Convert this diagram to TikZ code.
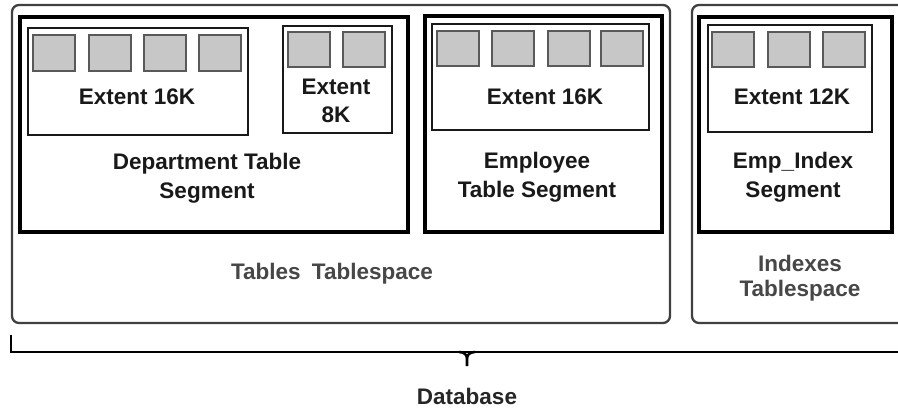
\documentclass[tikz,border=0pt]{standalone}
\usepackage{fontspec}
\setmainfont{Liberation Sans}
\usetikzlibrary{calc}
\begin{document}
\begin{tikzpicture}[x=1pt,y=-1pt,
  tspace/.style={draw=black!75,line width=2.3pt,rounded corners=7pt},
  segbox/.style={draw=black,line width=3.4pt},
  extbox/.style={draw=black!90,line width=1.8pt},
  blk/.style={draw=black!65,fill=black!22,line width=1.3pt},
  lbl/.style={align=center,text=black!90,font=\fontsize{22.5}{28.5}\selectfont\bfseries,inner sep=0pt},
  tlbl/.style={align=center,text=black!72,font=\fontsize{22.5}{24.5}\selectfont\bfseries,inner sep=0pt},
  brace/.style={draw=black,line width=2.6pt}]
\useasboundingbox (0,0) rectangle (898,408);
\fill[white] (0,0) rectangle (898,408);
\begin{scope}
\clip (0,0) rectangle (898,408);
% tablespaces
\draw[tspace] (12,5) rectangle (670,323);
\draw[tspace] (692,5) rectangle (930,323);
% segments
\draw[segbox] (20,17) rectangle (408,232);
\draw[segbox] (425,16) rectangle (662,232);
\draw[segbox] (699,17) rectangle (892,232);
% extents
\draw[extbox] (28,28) rectangle (248,135);
\draw[extbox] (283,26) rectangle (392,133);
\draw[extbox] (432,24) rectangle (649,130);
\draw[extbox] (708,25) rectangle (872,132);
% blocks
\foreach \x in {33,89,144,199} \draw[blk] (\x,35) rectangle ++(42,36);
\foreach \x in {288,343} \draw[blk] (\x,32) rectangle ++(42,35);
\foreach \x in {437,492,548,601} \draw[blk] (\x,31) rectangle ++(42,35);
\foreach \x in {712,768,823} \draw[blk] (\x,32) rectangle ++(42,35);
\end{scope}
% labels
\node[lbl] (e1) at (137,97) {Extent 16K};
\node[lbl] (e2) at (336,101) {Extent\\8K};
\node[lbl] (s1) at (207,178) {Department Table\\Segment};
\node[lbl] (e3) at (545,97) {Extent 16K};
\node[lbl] (s2) at (537,177) {Employee\\Table Segment};
\node[lbl] (e4) at (792,97) {Extent 12K};
\node[lbl] (s3) at (793,177) {Emp\_Index\\Segment};
\node[tlbl] (t1) at (332,274) {Tables\hspace{5pt} Tablespace};
\node[tlbl] (t2) at (800,278) {Indexes\\Tablespace};
\node[tlbl,text=black!85] (db) at (467,396) {Database};
% brace
\coordinate (bl) at (11,335);
\coordinate (bc) at (467,352);
\coordinate (br) at (898,352);
\draw[brace] (bl) |- (br);
\draw[brace] ($(bc)+(-8,0)$) to[out=0,in=90] ($(bc)+(0,6)$) -- ($(bc)+(0,14)$);
\draw[brace] ($(bc)+(8,0)$) to[out=180,in=90] ($(bc)+(0,6)$);
\end{tikzpicture}
\end{document}
